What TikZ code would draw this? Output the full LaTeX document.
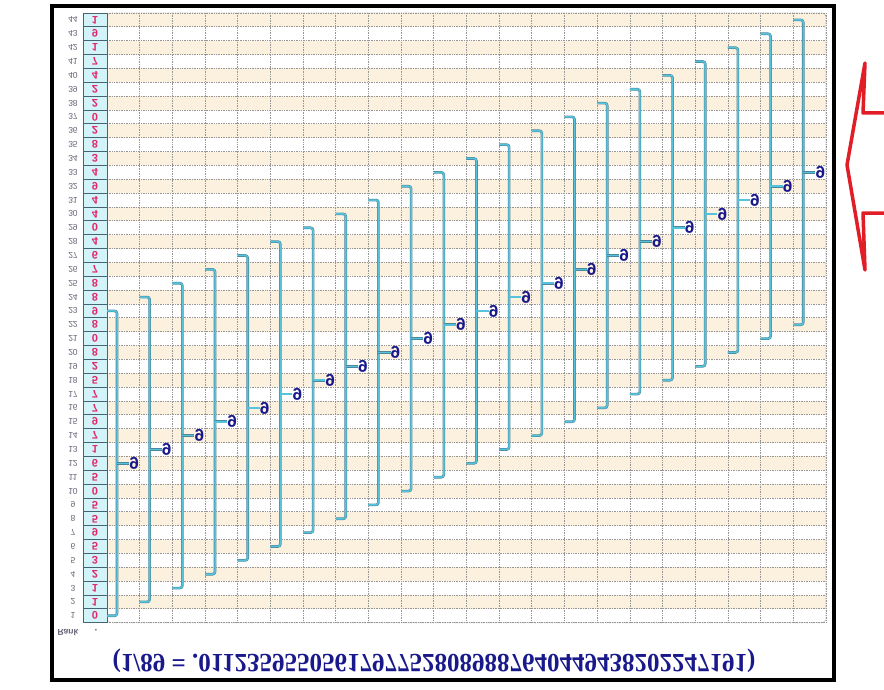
\documentclass[tikz,border=0pt]{standalone}
\usepackage{fontspec}
\setmainfont{Liberation Serif}
\newfontfamily\sansf{Liberation Sans}
\usepackage{graphicx}
\definecolor{beige}{RGB}{252,240,222}
\definecolor{cellcyan}{RGB}{210,243,248}
\definecolor{celledge}{RGB}{70,100,115}
\definecolor{brk}{RGB}{85,195,220}
\definecolor{brkdark}{RGB}{75,135,155}
\definecolor{navy}{RGB}{25,25,140}
\definecolor{pinkd}{RGB}{225,40,110}
\definecolor{rankgray}{RGB}{100,100,120}
\definecolor{arrowred}{RGB}{225,30,40}
\definecolor{gridgray}{RGB}{150,150,150}
\begin{document}
\begin{tikzpicture}[x=1pt,y=-1pt,
  gridline/.style={densely dotted, draw=gridgray, line width=0.7pt},
  digitcell/.style={draw=celledge, line width=0.8pt, fill=cellcyan, minimum width=24pt, minimum height=13.857pt, inner sep=0pt, font=\sansf\bfseries\fontsize{11}{11}\selectfont, text=pinkd},
  ranklbl/.style={inner sep=0pt, font=\sansf\fontsize{8.5}{8.5}\selectfont, text=rankgray},
  bracket/.style={line width=1.5pt, draw=brk, rounded corners=2.5pt, preaction={draw=brkdark, line width=2.6pt}},
  ninelbl/.style={inner sep=0pt, font=\sansf\bfseries\fontsize{17}{17}\selectfont, text=navy},
  bottomtext/.style={inner sep=0pt, font=\bfseries\fontsize{25}{25}\selectfont, text=navy},
  frame/.style={draw=black, line width=4pt},
  bigarrow/.style={draw=arrowred, line width=3.5pt, line join=round}
]
\useasboundingbox (0,0) rectangle (884,690);
\fill[white] (0,0) rectangle (884,690);
\def\gt{13}\def\gb{622.7}\def\rh{13.857}
\def\gl{107}\def\cw{32.68}\def\gr{825.96}
% row stripes
\foreach \r in {2,4,...,44}{
  \fill[beige] (\gl,{\gb-\r*\rh}) rectangle (\gr,{\gb-(\r-1)*\rh});
}
% grid lines
\foreach \r in {0,...,44}{
  \draw[gridline] (\gl,{\gb-\r*\rh}) -- (\gr,{\gb-\r*\rh});
}
\foreach \j in {0,...,22}{
  \draw[gridline] ({\gl+\j*\cw},\gt) -- ({\gl+\j*\cw},\gb);
}
\draw[gridline, rounded corners=4pt] (\gl,\gt) rectangle (\gr,\gb);
% digit column and rank labels
\foreach \d [count=\r] in {0,1,1,2,3,5,9,5,5,0,5,6,1,7,9,7,7,5,2,8,0,8,9,8,8,7,6,4,0,4,4,9,4,3,8,2,0,2,2,4,7,1,9,1}{
  \node[digitcell] (c\r) at (95,{\gb-(\r-0.5)*\rh}) {\scalebox{1}[-1]{\d}};
  \node[ranklbl] (r\r) at (73,{\gb-(\r-0.5)*\rh}) {\scalebox{1}[-1]{\r}};
}
\node[ranklbl, font=\sansf\bfseries\fontsize{8.5}{8.5}\selectfont] (rank) at (68,633) {\scalebox{1}[-1]{Rank}};
\node[ranklbl, font=\sansf\bfseries\fontsize{10}{10}\selectfont] (dot) at (96,630) {\scalebox{1}[-1]{.}};
% brackets
\foreach \k in {1,...,22}{
  \pgfmathsetmacro\xl{\gl+(\k-1)*\cw}
  \pgfmathsetmacro\xv{\xl+10}
  \pgfmathsetmacro\yb{\gb-(\k-0.5)*\rh}
  \pgfmathsetmacro\yt{\gb-(\k+21.5)*\rh}
  \pgfmathsetmacro\ym{\gb-(\k+10.5)*\rh}
  \coordinate (bt\k) at (\xl,\yt);
  \coordinate (bb\k) at (\xl,\yb);
  \draw[bracket] (bt\k) -- (\xv,\yt) -- (\xv,\yb) -- (bb\k);
  \node[ninelbl] (n\k) at ({\xv+17},\ym) {\scalebox{1}[-1]{9}};
  \draw[bracket] (\xv,\ym) -- (n\k.west);
}
% bottom formula
\node[bottomtext] (eq) at (434,661) {\scalebox{1}[-1.05]{(1/89 = .01123595505617977528089887640449438202247191)}};
% frame
\draw[frame] (52,6.5) rectangle (834,680);
% red arrow
\draw[bigarrow] (888,113) -- (863,113) -- (865,63) -- (847,165) -- (865,270) -- (863,213) -- (888,213);
\end{tikzpicture}
\end{document}
